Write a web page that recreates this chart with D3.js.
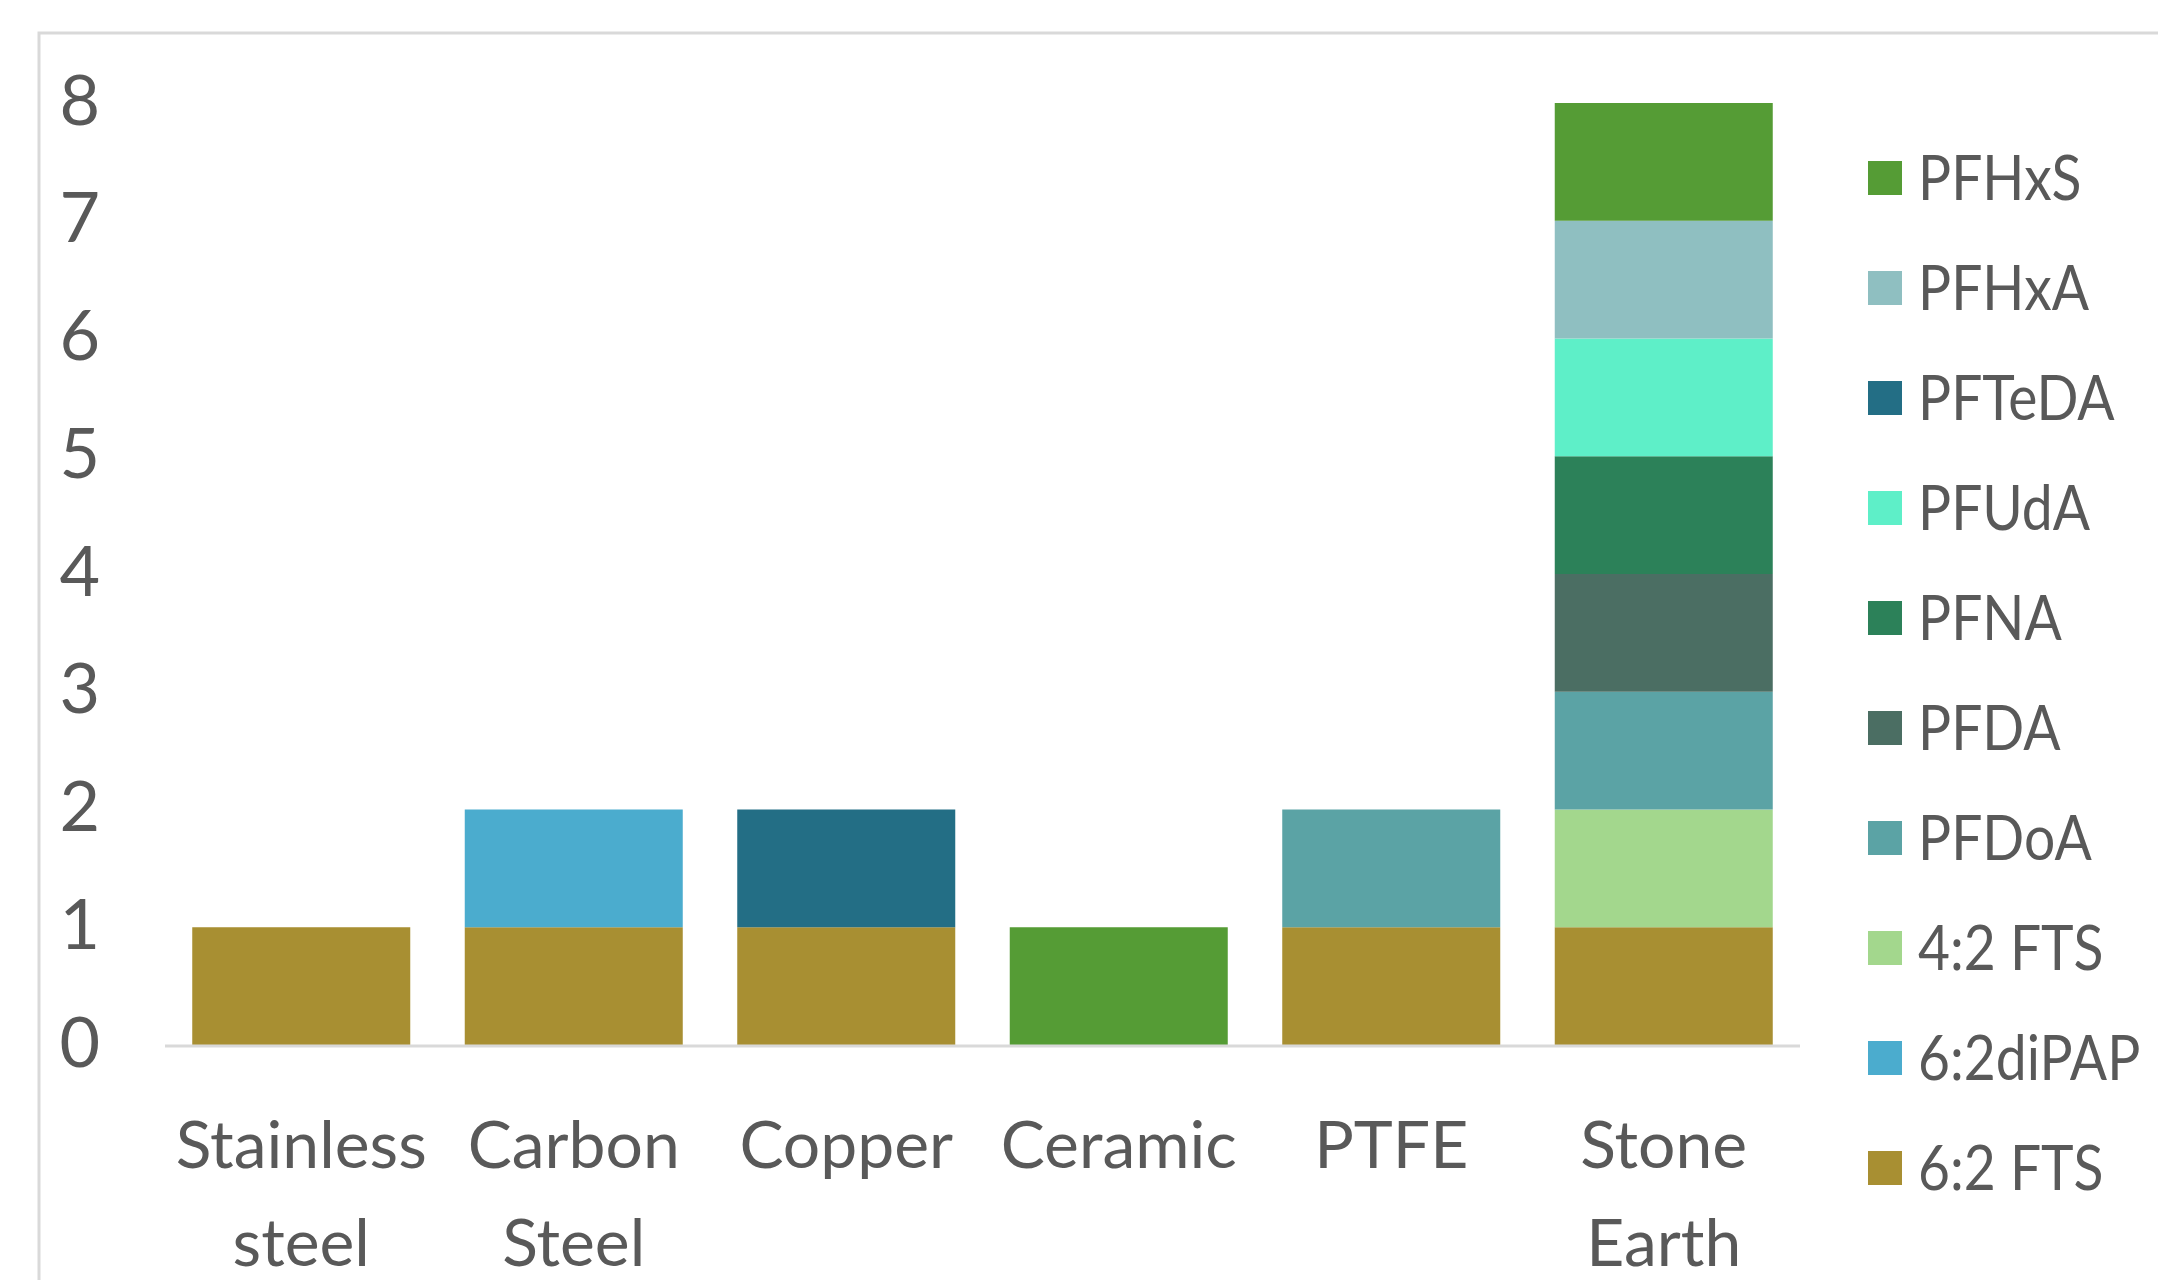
<!DOCTYPE html>
<html>
<head>
<meta charset="utf-8">
<script src="https://cdn.jsdelivr.net/npm/d3@7"></script>
<style>
  html, body { margin: 0; padding: 0; background: #ffffff; }
  svg text { font-family: Lato, "Open Sans", sans-serif; fill: #595959; }
</style>
</head>
<body>
<svg id="chart" width="2158" height="1280"></svg>
<script>
// Materials (x categories), split into two label lines
const materials = ["Stainless steel", "Carbon Steel", "Copper", "Ceramic", "PTFE", "Stone Earth"];
const materialLines = [["Stainless", "steel"], ["Carbon", "Steel"], ["Copper"], ["Ceramic"], ["PTFE"], ["Stone", "Earth"]];

// Compounds in stacking order, bottom to top
const compounds = ["6:2 FTS", "6:2diPAP", "4:2 FTS", "PFDoA", "PFDA", "PFNA", "PFUdA", "PFTeDA", "PFHxA", "PFHxS"];
const compoundColors = ["#a88f32", "#4bacce", "#a3d78d", "#5ba3a5", "#4b6e63", "#2c8159", "#5eefc8", "#236e85", "#8fbfc1", "#559c35"];

// Counts per compound, one value per material
const fts62   = [1, 1, 1, 0, 1, 1];
const dipap62 = [0, 1, 0, 0, 0, 0];
const fts42   = [0, 0, 0, 0, 0, 1];
const pfdoa   = [0, 0, 0, 0, 1, 1];
const pfda    = [0, 0, 0, 0, 0, 1];
const pfna    = [0, 0, 0, 0, 0, 1];
const pfuda   = [0, 0, 0, 0, 0, 1];
const pfteda  = [0, 0, 1, 0, 0, 0];
const pfhxa   = [0, 0, 0, 0, 0, 1];
const pfhxs   = [0, 0, 0, 1, 0, 1];

const yTicks = [0, 1, 2, 3, 4, 5, 6, 7, 8];

const seriesValues = [fts62, dipap62, fts42, pfdoa, pfda, pfna, pfuda, pfteda, pfhxa, pfhxs];

// Build the table d3.stack needs
const table = materials.map((m, i) => {
  const row = { material: m };
  compounds.forEach((c, k) => { row[c] = seriesValues[k][i]; });
  return row;
});

const svg = d3.select("#chart");

// Chart-area frame
svg.append("rect")
  .attr("x", 39).attr("y", 33)
  .attr("width", 2300).attr("height", 1400)
  .attr("fill", "none")
  .attr("stroke", "#d9d9d9")
  .attr("stroke-width", 3);

const plot = { left: 165, right: 1800, top: 103, bottom: 1045 };

const x = d3.scaleBand()
  .domain(materials)
  .range([plot.left, plot.right])
  .paddingInner(0.2)
  .paddingOuter(0.1);

const y = d3.scaleLinear()
  .domain([0, 8])
  .range([plot.bottom, plot.top]);

const color = d3.scaleOrdinal().domain(compounds).range(compoundColors);

const stacked = d3.stack().keys(compounds)(table);

svg.append("g")
  .selectAll("g")
  .data(stacked)
  .join("g")
  .attr("fill", d => color(d.key))
  .selectAll("rect")
  .data(d => d.filter(s => s[1] - s[0] > 0))
  .join("rect")
  .attr("x", d => x(d.data.material))
  .attr("y", d => y(d[1]))
  .attr("width", x.bandwidth())
  .attr("height", d => y(d[0]) - y(d[1]));

// Baseline
svg.append("line")
  .attr("x1", plot.left).attr("x2", plot.right)
  .attr("y1", y(0) + 1).attr("y2", y(0) + 1)
  .attr("stroke", "#d9d9d9").attr("stroke-width", 3);

// Y axis labels (no line, no ticks)
const yAxis = d3.axisLeft(y).tickValues(yTicks).tickSize(0).tickPadding(0).tickFormat(d3.format("d"));
const yg = svg.append("g").attr("transform", "translate(100,-4)").call(yAxis);
yg.select(".domain").remove();
yg.selectAll("text")
  .attr("font-family", "Lato, 'Open Sans', sans-serif")
  .attr("font-size", 70)
  .attr("fill", "#595959")
  .attr("dy", "0.36em");

// X category labels, two lines each
const xg = svg.append("g");
materials.forEach((m, i) => {
  const t = xg.append("text")
    .attr("x", x(m) + x.bandwidth() / 2)
    .attr("y", 1168)
    .attr("text-anchor", "middle")
    .attr("font-size", 66);
  materialLines[i].forEach((line, j) => {
    t.append("tspan")
      .attr("x", x(m) + x.bandwidth() / 2)
      .attr("dy", j === 0 ? 0 : 98)
      .text(line);
  });
});

// Legend, top to bottom in reverse stacking order
const legendOrder = compounds.slice().reverse();
const lg = svg.append("g");
legendOrder.forEach((c, i) => {
  const cy = 178 + i * 110;
  lg.append("rect")
    .attr("x", 1868).attr("y", cy - 17)
    .attr("width", 34).attr("height", 34)
    .attr("fill", color(c));
  lg.append("text")
    .attr("transform", `translate(1918,${cy}) scale(0.89,1)`)
    .attr("dy", "0.36em")
    .attr("font-size", 62)
    .text(c);
});
</script>
</body>
</html>
